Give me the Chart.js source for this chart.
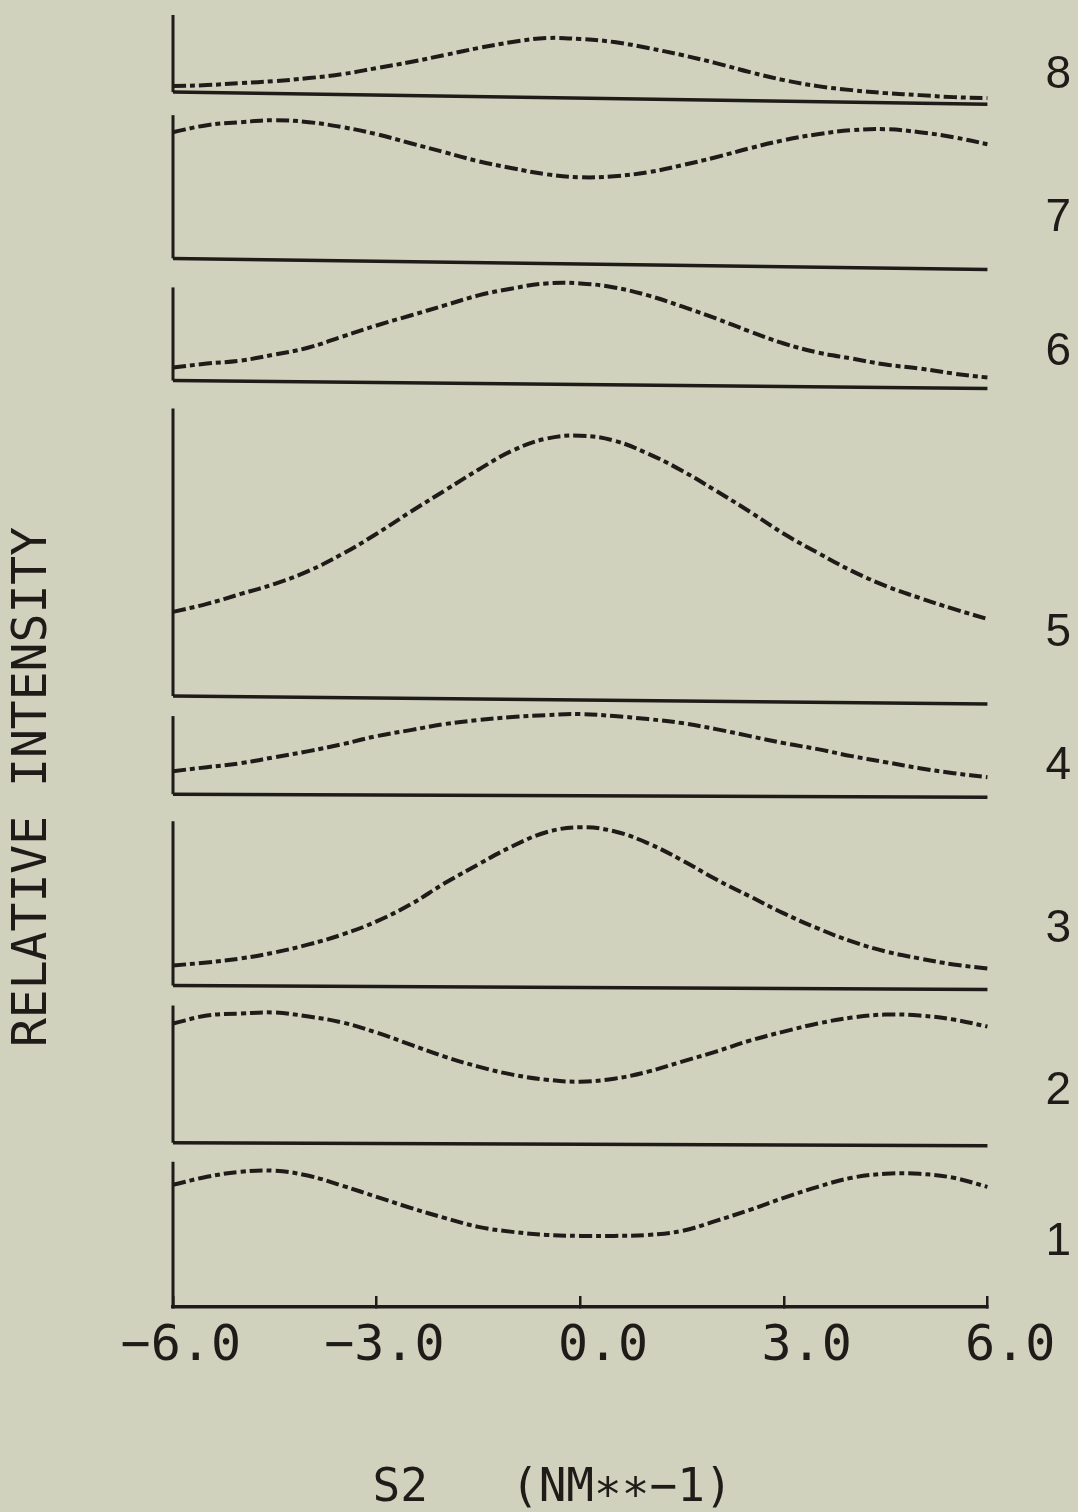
<!DOCTYPE html>
<html>
<head>
<meta charset="utf-8">
<title>Relative intensity vs S2</title>
<script src="https://cdn.jsdelivr.net/npm/chart.js@4/dist/chart.umd.min.js"></script>
<style>
  html, body { margin: 0; padding: 0; background: #d0d2be; }
  canvas { display: block; }
</style>
</head>
<body>
<canvas id="stackChart" width="1078" height="1512"></canvas>
<script>
(function() {
    'use strict';

    const INK = '#1f1b18';

    // S2 sample positions (NM**-1)
    const S2 = [-6, -5.5, -5, -4.5, -4, -3.5, -3, -2.5, -2, -1.5, -1, -0.5, 0,
                0.5, 1, 1.5, 2, 2.5, 3, 3.5, 4, 4.5, 5, 5.5, 6];

    // stacked intensity curves, one per panel (bottom to top)
    const curve1 = [12.2, 13.0, 13.5, 13.6, 13.1, 12.1, 11.0, 9.9, 8.9, 8.0, 7.5, 7.2, 7.1,
                    7.1, 7.2, 7.6, 8.6, 9.7, 10.9, 12.0, 12.9, 13.3, 13.3, 12.9, 12.0];
    const curve2 = [28.3, 29.1, 29.3, 29.4, 29.0, 28.4, 27.4, 26.2, 25.0, 24.0, 23.2, 22.7, 22.5,
                    22.8, 23.5, 24.5, 25.5, 26.6, 27.5, 28.3, 28.9, 29.2, 29.1, 28.7, 28.0];
    const curve3 = [34.1, 34.4, 34.8, 35.4, 36.2, 37.2, 38.5, 40.2, 42.3, 44.2, 46.0, 47.4, 47.9,
                    47.5, 46.3, 44.6, 42.7, 41.0, 39.3, 37.8, 36.5, 35.5, 34.8, 34.2, 33.8];
    const curve4 = [53.5, 53.9, 54.3, 54.9, 55.5, 56.2, 57.0, 57.6, 58.2, 58.6, 58.9, 59.1, 59.2,
                    59.0, 58.7, 58.3, 57.7, 57.0, 56.3, 55.7, 55.0, 54.4, 53.8, 53.3, 52.9];
    const curve5 = [69.4, 70.2, 71.2, 72.2, 73.5, 75.2, 77.2, 79.4, 81.5, 83.6, 85.5, 86.7, 87.0,
                    86.5, 85.2, 83.5, 81.5, 79.4, 77.2, 75.3, 73.5, 72.0, 70.8, 69.7, 68.7];
    const curve6 = [93.8, 94.2, 94.5, 95.1, 95.8, 96.9, 98.0, 99.0, 100.0, 101.0, 101.7, 102.2, 102.2,
                    101.8, 101.0, 99.9, 98.7, 97.4, 96.2, 95.3, 94.7, 94.1, 93.7, 93.2, 92.8];
    const curve7 = [117.3, 118.0, 118.3, 118.5, 118.3, 117.8, 117.1, 116.2, 115.3, 114.4, 113.7, 113.1, 112.8,
                    112.9, 113.3, 114.0, 114.8, 115.7, 116.5, 117.1, 117.5, 117.6, 117.3, 116.8, 116.1];
    const curve8 = [121.9, 122.0, 122.2, 122.4, 122.7, 123.1, 123.7, 124.3, 125.0, 125.7, 126.3, 126.7, 126.6,
                    126.3, 125.7, 125.0, 124.2, 123.3, 122.5, 121.9, 121.5, 121.2, 121.0, 120.8, 120.7];
    const CURVES = [curve1, curve2, curve3, curve4, curve5, curve6, curve7, curve8];

    // zero line of each panel at S2 = -6 and S2 = 6, and top of its left axis
    const baseLeft  = [0, 16.4, 32.1, 51.2, 61.0, 92.5, 104.7, 121.3];
    const baseRight = [0, 16.1, 31.7, 50.9, 60.2, 91.7, 103.6, 120.1];
    const panelTop  = [14.5, 30.1, 48.5, 59.0, 89.7, 101.8, 119.0, 129.0];

    // panel numbers on the right
    const PANEL_LABELS = ['1', '2', '3', '4', '5', '6', '7', '8'];
    const LABEL_LEVELS = [6.5, 21.5, 37.7, 54.0, 67.3, 95.3, 108.7, 123.0];

    const X_TICKS = [-6, -3, 0, 3, 6];
    const X_TICK_LABELS = ['\u22126.0', '\u22123.0', '0.0', '3.0', '6.0'];

    const Y_MAX = 129;

    const datasets = [];
    CURVES.forEach(function(values, i) {
        datasets.push({
            label: 'panel ' + PANEL_LABELS[i],
            data: S2.map(function(s, k) { return { x: s, y: values[k] }; }),
            borderColor: INK,
            borderWidth: 4,
            borderDash: [13, 4, 5, 4],
            tension: 0.4,
            pointRadius: 0,
            clip: false
        });
        // panel 1 sits on the x axis line itself
        if (i > 0) {
            datasets.push({
                label: 'zero ' + PANEL_LABELS[i],
                data: [{ x: S2[0], y: baseLeft[i] }, { x: S2[S2.length - 1], y: baseRight[i] }],
                borderColor: INK,
                borderWidth: 3.5,
                pointRadius: 0,
                clip: false
            });
        }
        datasets.push({
            label: 'axis ' + PANEL_LABELS[i],
            data: [{ x: S2[0], y: baseLeft[i] }, { x: S2[0], y: panelTop[i] }],
            borderColor: INK,
            borderWidth: 3,
            pointRadius: 0,
            clip: false
        });
    });

    // vertical axis title, placed off-centre along the left edge
    const yTitle = {
        id: 'yTitle',
        afterDraw(chart) {
            const ctx = chart.ctx;
            ctx.save();
            ctx.translate(34, 787);
            ctx.rotate(-Math.PI / 2);
            ctx.font = '48px "DejaVu Sans Mono"';
            ctx.fillStyle = INK;
            ctx.textAlign = 'center';
            ctx.textBaseline = 'middle';
            ctx.fillText('RELATIVE INTENSITY', 0, 0);
            ctx.restore();
        }
    };

    const ctx = document.getElementById('stackChart').getContext('2d');
    new Chart(ctx, {
        type: 'line',
        data: { datasets: datasets },
        plugins: [yTitle],
        options: {
            responsive: false,
            animation: false,
            devicePixelRatio: 1,
            layout: { padding: { left: 173, top: 15, right: 7, bottom: 0 } },
            plugins: {
                legend: { display: false },
                tooltip: { enabled: false }
            },
            scales: {
                x: {
                    type: 'linear',
                    min: -6,
                    max: 6,
                    afterBuildTicks: function(scale) {
                        scale.ticks = X_TICKS.map(function(v) { return { value: v }; });
                    },
                    ticks: {
                        align: 'end',
                        labelOffset: 68,
                        padding: 21,
                        maxRotation: 0,
                        autoSkip: false,
                        color: INK,
                        font: { family: 'DejaVu Sans Mono', size: 50 },
                        callback: function(v, i) { return X_TICK_LABELS[i]; }
                    },
                    grid: {
                        drawOnChartArea: false,
                        tickLength: -11,
                        color: INK,
                        lineWidth: 2.5
                    },
                    border: { color: INK, width: 3.5 },
                    title: {
                        display: true,
                        // trailing spaces pull the title a little left of centre
                        text: 'S2   (NM\u2217\u2217\u22121)  ',
                        color: INK,
                        font: { family: 'DejaVu Sans Mono', size: 46, lineHeight: 1 },
                        padding: { top: 68, bottom: 0 }
                    }
                },
                y: {
                    position: 'right',
                    min: 0,
                    max: Y_MAX,
                    afterBuildTicks: function(scale) {
                        scale.ticks = LABEL_LEVELS.map(function(v) { return { value: v }; });
                    },
                    ticks: {
                        padding: 0,
                        autoSkip: false,
                        color: INK,
                        font: { family: 'Liberation Sans', size: 46, lineHeight: 0.6 },
                        callback: function(v, i) { return PANEL_LABELS[i]; }
                    },
                    grid: {
                        drawOnChartArea: false,
                        tickLength: 58,
                        tickColor: 'transparent'
                    },
                    border: { display: false }
                }
            }
        }
    });
})();
</script>
</body>
</html>
